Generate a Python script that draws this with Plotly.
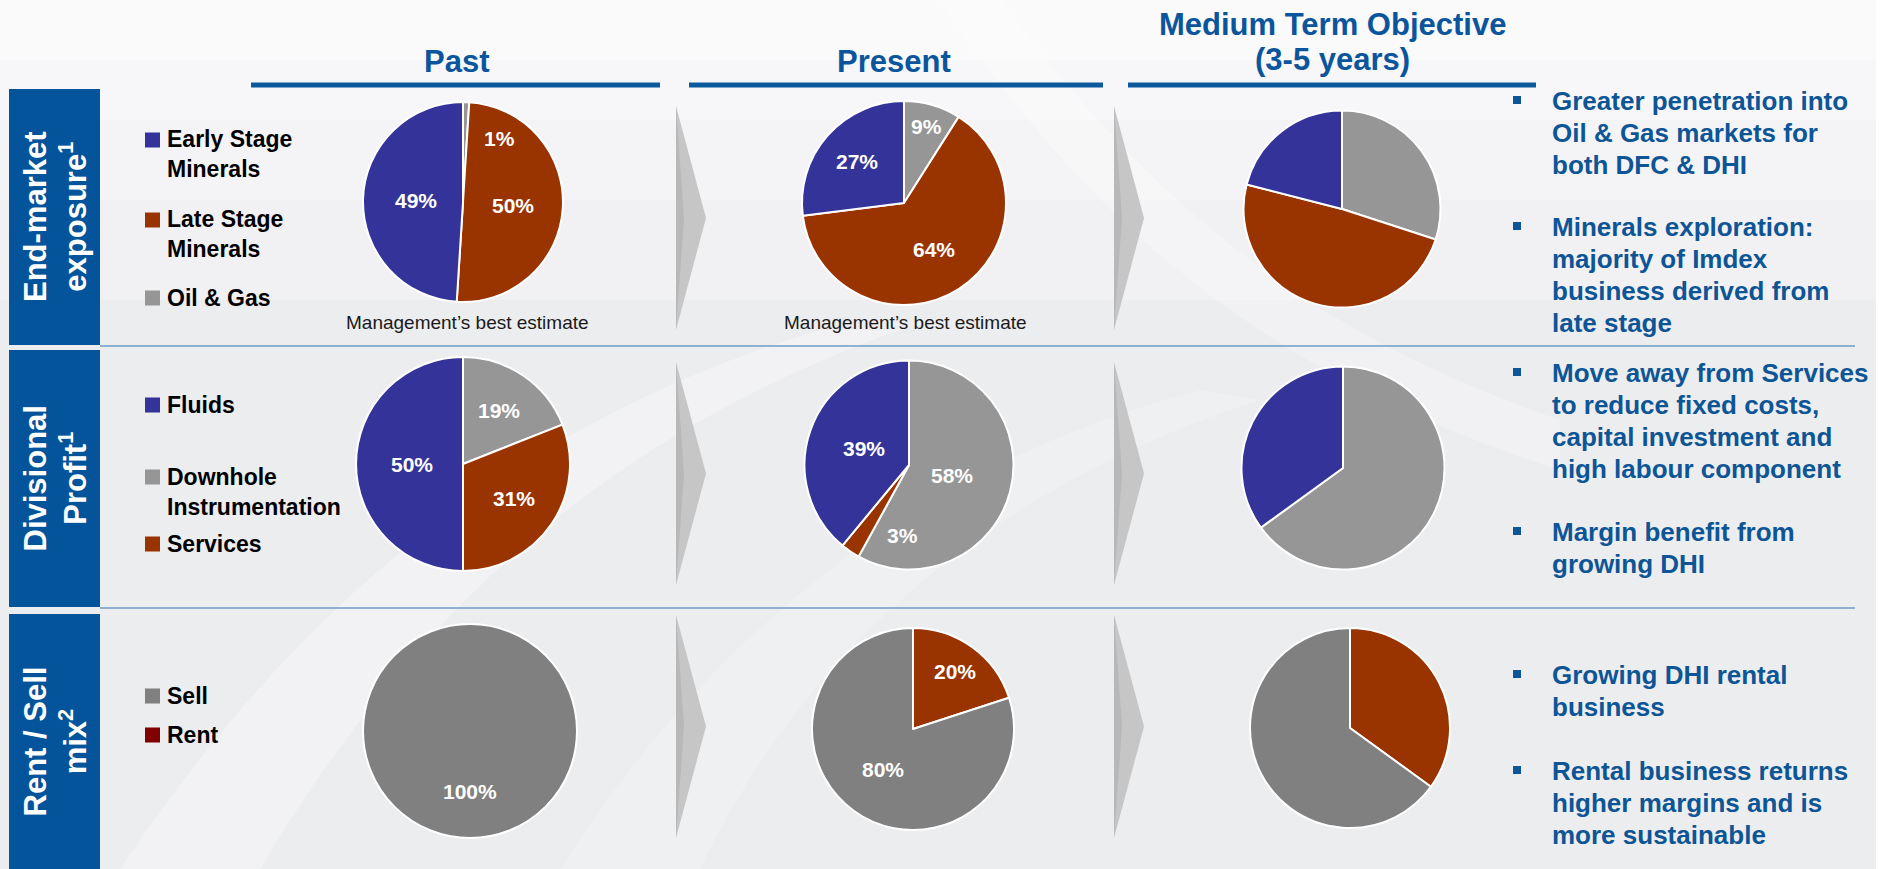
import math
import plotly.graph_objects as go

W, H = 1889, 869

# ---------------------------------------------------------------- data
PERIODS = ["Past", "Present", "Medium Term Objective<br>(3-5 years)"]

END_MARKET = ["Early Stage Minerals", "Late Stage Minerals", "Oil & Gas"]
END_MARKET_PAST = [49, 50, 1]
END_MARKET_PRESENT = [27, 64, 9]
END_MARKET_OBJECTIVE = [21, 49, 30]

DIVISIONS = ["Fluids", "Downhole Instrumentation", "Services"]
DIVISIONS_PAST = [50, 19, 31]
DIVISIONS_PRESENT = [39, 58, 3]
DIVISIONS_OBJECTIVE = [35, 65, 0]

MIX = ["Sell", "Rent"]
MIX_PAST = [100, 0]
MIX_PRESENT = [80, 20]
MIX_OBJECTIVE = [65, 35]

ROW_TITLES = ["End-market<br>exposure<sup>1</sup>",
              "Divisional<br>Profit<sup>1</sup>",
              "Rent / Sell<br>mix<sup>2</sup>"]

LEGEND_END_MARKET = ["Early Stage<br>Minerals", "Late Stage<br>Minerals", "Oil & Gas"]
LEGEND_DIVISIONS = ["Fluids", "Downhole<br>Instrumentation", "Services"]
LEGEND_MIX = ["Sell", "Rent"]

NOTE = "Management\u2019s best estimate"

BULLETS = [
    ["Greater penetration into", "Oil & Gas markets for", "both DFC & DHI"],
    ["Minerals exploration:", "majority of Imdex", "business derived from", "late stage"],
    ["Move away from Services", "to reduce fixed costs,", "capital investment and",
     "high labour component"],
    ["Margin benefit from", "growing DHI"],
    ["Growing DHI rental", "business"],
    ["Rental business returns", "higher margins and is", "more sustainable"],
]

# ---------------------------------------------------------------- style
FONT = "Arial, Liberation Sans, sans-serif"
BLUE_TXT = "#0B559C"
BULLET_TXT = "#0E5596"
BOX_BLUE = "#03549A"
C_BLUE = "#333399"
C_RUST = "#993300"
C_GREY = "#969696"
C_SELL = "#808080"
C_RENT_KEY = "#800000"

ROW1_COLORS = {"Early Stage Minerals": C_BLUE, "Late Stage Minerals": C_RUST, "Oil & Gas": C_GREY}
ROW2_COLORS = {"Fluids": C_BLUE, "Downhole Instrumentation": C_GREY, "Services": C_RUST}
ROW3_COLORS = {"Sell": C_SELL, "Rent": C_RUST}

# slice order, clockwise from 12 o'clock
ROW1_ORDER = [2, 1, 0]
ROW2_ORDER = [1, 2, 0]
ROW3_ORDER = [1, 0]

# pie centres / diameters in pixels, per row and column
PIE_GEOM = [
    [(463, 202, 200), (904, 203, 204), (1342, 209, 197)],
    [(463, 464, 214), (909, 465, 209), (1343, 468, 203)],
    [(470, 731, 214), (913, 729, 202), (1350, 728, 200)],
]

# label radius (fraction of R) per slice in drawing order; optional angle override
LABEL_POS = {
    (0, 0): [(29.7, 0.73), (None, 0.50), (None, 0.47)],
    (0, 1): [(None, 0.78), (None, 0.54), (None, 0.61)],
    (1, 0): [(None, 0.60), (None, 0.58), (None, 0.48)],
    (1, 1): [(None, 0.42), (185.6, 0.68), (None, 0.46)],
    (2, 0): [(None, 0.57), (None, 0.57)],
    (2, 1): [(None, 0.70), (None, 0.50)],
}

fig = go.Figure()

# invisible trace so the pixel-space cartesian axes exist
fig.add_trace(go.Scatter(x=[0, W], y=[0, H], mode="markers",
                         marker=dict(opacity=0), hoverinfo="skip", showlegend=False))

shapes = []
annotations = []


def ann(x, y, text, size, color, bold=False, xanchor="center", yanchor="middle",
        angle=0, align="center", family=FONT):
    annotations.append(dict(
        x=x, y=y, xref="x", yref="y", text=text, showarrow=False,
        xanchor=xanchor, yanchor=yanchor, textangle=angle, align=align,
        font=dict(family=family, size=size, color=color,
                  weight="bold" if bold else "normal"),
    ))


# ---------------------------------------------------------------- background
for y1, op in [(300, 0.25), (200, 0.25), (120, 0.3), (60, 0.35)]:
    shapes.append(dict(type="rect", xref="x", yref="y", x0=0, x1=W, y0=0, y1=y1,
                       fillcolor="white", opacity=op, line=dict(width=0), layer="below"))
# faint diagonal swooshes
for path, op in [
    ("M 120,869 C 300,600 520,420 820,330 L 900,330 C 620,430 420,600 260,869 Z", 0.3),
    ("M 560,869 C 700,650 900,470 1200,390 L 1260,400 C 980,490 800,660 700,869 Z", 0.2),
    ("M 1000,0 C 1150,200 1300,330 1560,420 L 1560,470 C 1280,380 1100,240 940,0 Z", 0.25),
]:
    shapes.append(dict(type="path", xref="x", yref="y", path=path, fillcolor="white",
                       opacity=op, line=dict(width=0), layer="below"))
shapes.append(dict(type="rect", xref="x", yref="y", x0=1876, x1=W, y0=0, y1=H,
                   fillcolor="white", line=dict(width=0), layer="below"))

# ---------------------------------------------------------------- headers
title_x = [456, 894, 1332]
underline = [(251, 660), (689, 1103), (1128, 1536)]
for i, p in enumerate(PERIODS):
    if "<br>" in p:
        l1, l2 = p.split("<br>")
        ann(title_x[i], 24, l1, 31, BLUE_TXT, bold=True)
        ann(title_x[i], 59, l2, 31, BLUE_TXT, bold=True)
    else:
        ann(title_x[i], 61, p, 31, BLUE_TXT, bold=True)
    x0, x1 = underline[i]
    shapes.append(dict(type="line", xref="x", yref="y", x0=x0, x1=x1, y0=85, y1=85,
                       line=dict(color="#0B5A9E", width=5), layer="below"))

# row boxes and separators
row_box = [(89, 345), (350, 607), (614, 869)]
for (y0, y1), t in zip(row_box, ROW_TITLES):
    shapes.append(dict(type="rect", xref="x", yref="y", x0=9, x1=100, y0=y0, y1=y1,
                       fillcolor=BOX_BLUE, line=dict(width=0), layer="below"))
    ann(55, (y0 + y1) / 2, t, 31, "white", bold=True, angle=-90)
for y in (346, 608):
    shapes.append(dict(type="line", xref="x", yref="y", x0=100, x1=1855, y0=y, y1=y,
                       line=dict(color="#6E9BC9", width=1.5), layer="below"))

# chevrons between columns
for (ty, by) in [(106, 330), (362, 585), (615, 838)]:
    for lx in (676, 1114):
        my = (ty + by) / 2
        shapes.append(dict(type="path", xref="x", yref="y",
                           path=f"M {lx},{ty} L {lx + 30},{my} L {lx},{by} Z",
                           fillcolor="#C6C6C6", line=dict(width=0), layer="below"))
        shapes.append(dict(type="path", xref="x", yref="y",
                           path=f"M {lx},{ty} L {lx + 8},{my} L {lx},{by} Z",
                           fillcolor="#B8B8B8", line=dict(width=0), layer="below"))

# ---------------------------------------------------------------- legends
def legend(labels, colors, ys, first_line_offsets):
    for lab, col, y, off in zip(labels, colors, ys, first_line_offsets):
        shapes.append(dict(type="rect", xref="x", yref="y", x0=145, x1=160,
                           y0=y - 7.5, y1=y + 7.5, fillcolor=col, line=dict(width=0),
                           layer="below"))
        n = lab.count("<br>") + 1
        ann(165, y + off * (n - 1), lab, 23, "#000000", bold=True,
            xanchor="left", align="left")


legend(LEGEND_END_MARKET, [ROW1_COLORS[c] for c in END_MARKET], [140, 220, 298], [14, 14, 0])
legend(LEGEND_DIVISIONS, [ROW2_COLORS[c] for c in DIVISIONS], [405, 477, 544], [0, 14.5, 0])
legend(LEGEND_MIX, [C_SELL, C_RENT_KEY], [696, 735], [0, 0])

ann(467, 322, NOTE, 19, "#1A1A1A")
ann(905, 322, NOTE, 19, "#1A1A1A")

# ---------------------------------------------------------------- pies
rows = [
    (END_MARKET, [END_MARKET_PAST, END_MARKET_PRESENT, END_MARKET_OBJECTIVE], ROW1_ORDER, ROW1_COLORS),
    (DIVISIONS, [DIVISIONS_PAST, DIVISIONS_PRESENT, DIVISIONS_OBJECTIVE], ROW2_ORDER, ROW2_COLORS),
    (MIX, [MIX_PAST, MIX_PRESENT, MIX_OBJECTIVE], ROW3_ORDER, ROW3_COLORS),
]

for r, (cats, series, order, cmap) in enumerate(rows):
    for c, vals in enumerate(series):
        labs = [cats[i] for i in order if vals[i] > 0]
        vs = [vals[i] for i in order if vals[i] > 0]
        cx, cy, d = PIE_GEOM[r][c]
        fig.add_trace(go.Pie(
            labels=labs, values=vs, sort=False, direction="clockwise", rotation=0,
            marker=dict(colors=[cmap[l] for l in labs], line=dict(color="white", width=2)),
            textinfo="none", textposition="none", showlegend=False,
            hovertemplate="%{label}: %{value}%<extra></extra>",
            domain=dict(x=[(cx - d / 2) / W, (cx + d / 2) / W],
                        y=[1 - (cy + d / 2) / H, 1 - (cy - d / 2) / H]),
        ))
        if (r, c) not in LABEL_POS:
            continue
        total = sum(vs)
        start = 0.0
        for k, v in enumerate(vs):
            sweep = 360.0 * v / total
            ang_override, frac = LABEL_POS[(r, c)][k]
            mid = ang_override if ang_override is not None else start + sweep / 2
            rad = frac * d / 2
            lx = cx + rad * math.sin(math.radians(mid))
            ly = cy - rad * math.cos(math.radians(mid))
            ann(lx, ly, f"{v}%", 21, "white", bold=True)
            start += sweep

# ---------------------------------------------------------------- bullet points
bullet_y = [101, 227, 373, 532, 675, 771]
for lines, y0 in zip(BULLETS, bullet_y):
    shapes.append(dict(type="rect", xref="x", yref="y", x0=1513, x1=1521,
                       y0=y0 - 5, y1=y0 + 3, fillcolor=BULLET_TXT, line=dict(width=0)))
    for i, line in enumerate(lines):
        ann(1550, y0 + 32 * i, line, 26, BULLET_TXT, bold=True, xanchor="left")

fig.update_layout(
    width=W, height=H, autosize=False,
    margin=dict(l=0, r=0, t=0, b=0, pad=0),
    paper_bgcolor="#ECEDEF", plot_bgcolor="rgba(0,0,0,0)",
    xaxis=dict(range=[0, W], visible=False, fixedrange=True, domain=[0, 1]),
    yaxis=dict(range=[H, 0], visible=False, fixedrange=True, domain=[0, 1]),
    shapes=shapes, annotations=annotations,
    showlegend=False,
)

fig.write_html("out.html")
